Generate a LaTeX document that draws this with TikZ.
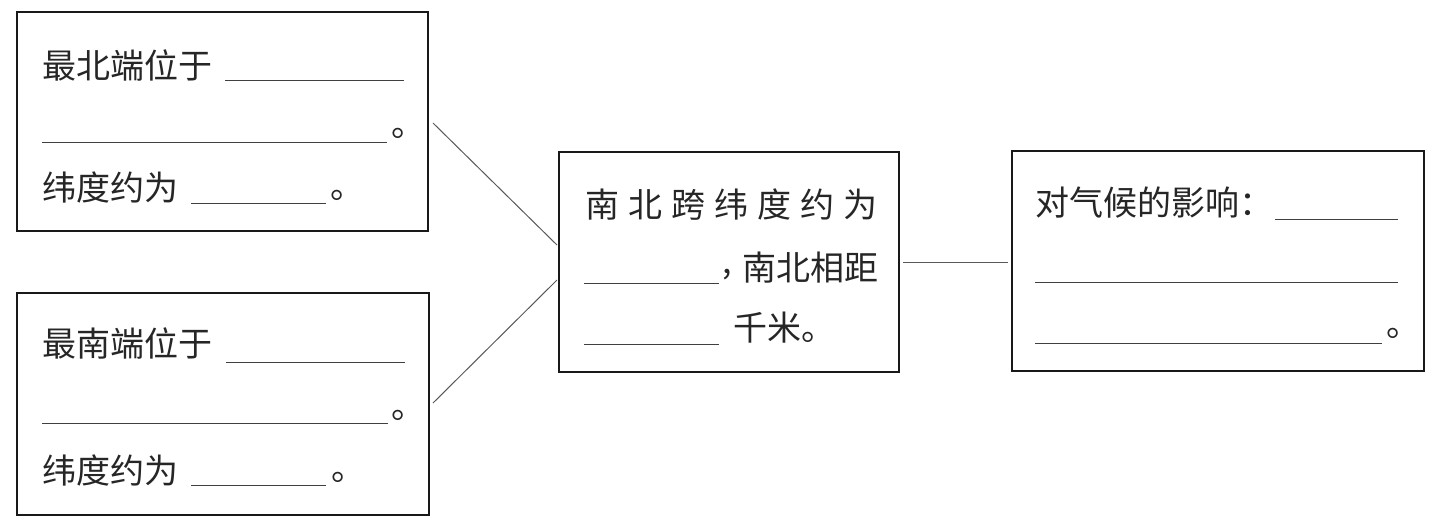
\documentclass[tikz,border=0pt]{standalone}
\usepackage{fontspec}
\setmainfont{Noto Sans CJK SC}
\begin{document}
\begin{tikzpicture}[x=0.5pt,y=-0.5pt,
  box/.style={draw=black!90, line width=1.1pt, inner sep=0, minimum width=#1},
  txt/.style={anchor=west, inner sep=0, text=black!85, font=\fontsize{17}{17}\selectfont},
  dot/.style={anchor=base west, inner sep=0, text=black!85, font=\fontsize{17}{17}\selectfont},
  blank/.style={draw=black!75, line width=0.5pt},
  link/.style={draw=black!65, line width=0.5pt}]
\useasboundingbox (0,0) rectangle (1443,527);
% boxes
\node[box=205.5pt, minimum height=109.5pt] (b1) at (222.5,121.5) {};
\node[box=206pt, minimum height=111pt] (b2) at (223,404) {};
\node[box=170pt, minimum height=110pt] (bc) at (729,262) {};
\node[box=206pt, minimum height=110pt] (br) at (1218,261) {};
% box 1
\node[txt] (t1a) at (42,65) {最北端位于};
\draw[blank] (225,80) -- (404,80);
\draw[blank] (42,142) -- (387,142);
\node[dot] (p1a) at (391,136) {。};
\node[txt] (t1b) at (42,187) {纬度约为};
\draw[blank] (191,203) -- (326,203);
\node[dot] (p1b) at (330,198) {。};
% box 2
\node[txt] (t2a) at (42,343) {最南端位于};
\draw[blank] (226,362) -- (405,362);
\draw[blank] (42,423) -- (388,423);
\node[dot] (p2a) at (391,418) {。};
\node[txt] (t2b) at (42,470) {纬度约为};
\draw[blank] (191,485) -- (326,485);
\node[dot] (p2b) at (331,480) {。};
% centre box
\node[txt] (tc1) at (585,205) {\makebox[146pt][s]{南\hfill 北\hfill 跨\hfill 纬\hfill 度\hfill 约\hfill 为}};
\draw[blank] (584,283) -- (719,283);
\node[dot] (cm) at (722,273) {,};
\node[txt] (tc2) at (742,268) {南北相距};
\draw[blank] (584,344) -- (719,344);
\node[txt] (tc3) at (733,328) {千米。};
% right box
\node[txt] (tr1) at (1035,203) {对气候的影响：};
\draw[blank] (1275,219) -- (1398,219);
\draw[blank] (1035,282) -- (1398,282);
\draw[blank] (1035,343) -- (1382,343);
\node[dot] (pr) at (1386,336) {。};
% connectors
\coordinate (c1a) at (433,123);
\coordinate (c1b) at (557,245);
\coordinate (c2a) at (433,403);
\coordinate (c2b) at (557,280);
\coordinate (c3a) at (903,262);
\coordinate (c3b) at (1008,262);
\draw[link] (c1a) -- (c1b);
\draw[link] (c2a) -- (c2b);
\draw[link] (c3a) -- (c3b);
\end{tikzpicture}
\end{document}
